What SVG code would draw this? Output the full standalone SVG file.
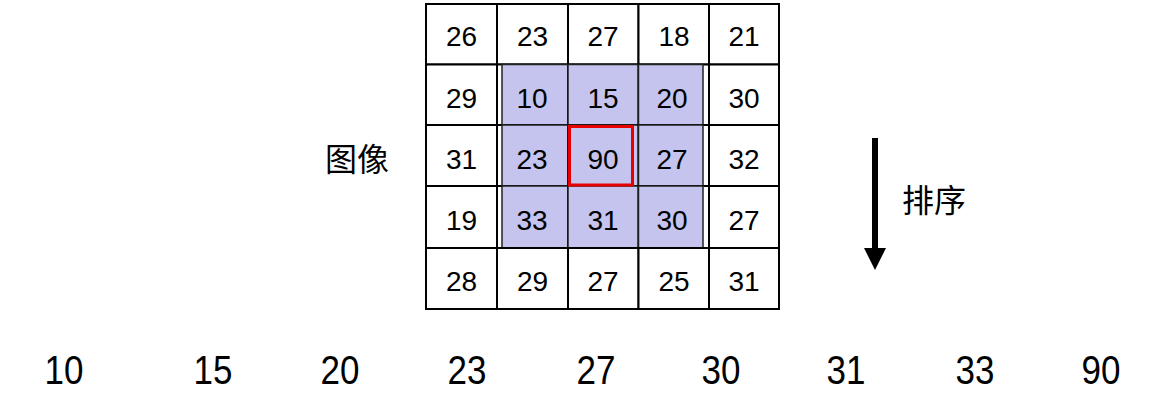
<svg xmlns="http://www.w3.org/2000/svg" width="1166" height="400" viewBox="0 0 1166 400">
<style>
.c{fill:#fff;stroke:#000;stroke-width:2}
.s{fill:#c4c4ee;stroke:#222;stroke-width:1.5}
.t{font-family:"Liberation Sans",Arial,sans-serif;font-size:28px;fill:#000;text-anchor:middle}
.b{font-family:"Liberation Sans",Arial,sans-serif;font-size:35px;fill:#000;text-anchor:middle}
.z{font-family:"Noto Sans CJK SC","Noto Sans CJK JP",sans-serif;font-size:32px;fill:#000}
</style>
<rect width="1166" height="400" fill="#fff"/>
<g id="grid">
<g id="r1c1"><rect class="c" x="426" y="4" width="71" height="60.5"/><text class="t" x="461.5" y="46">26</text></g>
<g id="r1c2"><rect class="c" x="497" y="4" width="71" height="60.5"/><text class="t" x="532.5" y="46">23</text></g>
<g id="r1c3"><rect class="c" x="568" y="4" width="70.5" height="60.5"/><text class="t" x="603" y="46">27</text></g>
<g id="r1c4"><rect class="c" x="638.5" y="4" width="70.5" height="60.5"/><text class="t" x="674" y="46">18</text></g>
<g id="r1c5"><rect class="c" x="709" y="4" width="70" height="60.5"/><text class="t" x="744" y="46">21</text></g>

<g id="r2c1"><rect class="c" x="426" y="64.5" width="71" height="60.5"/><text class="t" x="461.5" y="107.5">29</text></g>
<g id="r2c2"><rect class="c" x="497" y="64.5" width="71" height="60.5"/><rect class="s" x="502" y="64.5" width="66" height="60.5"/><text class="t" x="532" y="107.5">10</text></g>
<g id="r2c3"><rect class="c" x="568" y="64.5" width="70.5" height="60.5"/><rect class="s" x="568" y="64.5" width="70.5" height="60.5"/><text class="t" x="603" y="107.5">15</text></g>
<g id="r2c4"><rect class="c" x="638.5" y="64.5" width="70.5" height="60.5"/><rect class="s" x="638.5" y="64.5" width="64.5" height="60.5"/><text class="t" x="672" y="107.5">20</text></g>
<g id="r2c5"><rect class="c" x="709" y="64.5" width="70" height="60.5"/><text class="t" x="744" y="107.5">30</text></g>

<g id="r3c1"><rect class="c" x="426" y="125" width="71" height="61"/><text class="t" x="461.5" y="168.5">31</text></g>
<g id="r3c2"><rect class="c" x="497" y="125" width="71" height="61"/><rect class="s" x="502" y="125" width="66" height="61"/><text class="t" x="532" y="168.5">23</text></g>
<g id="r3c3"><rect class="c" x="568" y="125" width="70.5" height="61"/><rect class="s" x="568" y="125" width="70.5" height="61"/><text class="t" x="603" y="168.5">90</text></g>
<g id="r3c4"><rect class="c" x="638.5" y="125" width="70.5" height="61"/><rect class="s" x="638.5" y="125" width="64.5" height="61"/><text class="t" x="672" y="168.5">27</text></g>
<g id="r3c5"><rect class="c" x="709" y="125" width="70" height="61"/><text class="t" x="744" y="168.5">32</text></g>

<g id="r4c1"><rect class="c" x="426" y="186" width="71" height="62"/><text class="t" x="461.5" y="230">19</text></g>
<g id="r4c2"><rect class="c" x="497" y="186" width="71" height="62"/><rect class="s" x="502" y="186" width="66" height="62"/><text class="t" x="532" y="230">33</text></g>
<g id="r4c3"><rect class="c" x="568" y="186" width="70.5" height="62"/><rect class="s" x="568" y="186" width="70.5" height="62"/><text class="t" x="603" y="230">31</text></g>
<g id="r4c4"><rect class="c" x="638.5" y="186" width="70.5" height="62"/><rect class="s" x="638.5" y="186" width="64.5" height="62"/><text class="t" x="672" y="230">30</text></g>
<g id="r4c5"><rect class="c" x="709" y="186" width="70" height="62"/><text class="t" x="744" y="230">27</text></g>

<g id="r5c1"><rect class="c" x="426" y="248" width="71" height="61"/><text class="t" x="461.5" y="291">28</text></g>
<g id="r5c2"><rect class="c" x="497" y="248" width="71" height="61"/><text class="t" x="532.5" y="291">29</text></g>
<g id="r5c3"><rect class="c" x="568" y="248" width="70.5" height="61"/><text class="t" x="603" y="291">27</text></g>
<g id="r5c4"><rect class="c" x="638.5" y="248" width="70.5" height="61"/><text class="t" x="674" y="291">25</text></g>
<g id="r5c5"><rect class="c" x="709" y="248" width="70" height="61"/><text class="t" x="744" y="291">31</text></g>
</g>
<g id="center-highlight"><rect x="569.5" y="126.5" width="63" height="58.5" fill="none" stroke="#e60000" stroke-width="3"/></g>
<g id="label-image"><text class="z" x="325" y="171">图像</text></g>
<g id="label-sort"><text class="z" x="902" y="212">排序</text></g>
<g id="connectors">
<rect x="872" y="138" width="6" height="112" fill="#000"/>
<polygon points="864,248 886,248 875,270" fill="#000"/>
</g>
<g id="sorted">
<text class="b" transform="translate(64,384) scale(1,1.18)">10</text>
<text class="b" transform="translate(213,384) scale(1,1.18)">15</text>
<text class="b" transform="translate(340,384) scale(1,1.18)">20</text>
<text class="b" transform="translate(467,384) scale(1,1.18)">23</text>
<text class="b" transform="translate(596,384) scale(1,1.18)">27</text>
<text class="b" transform="translate(721,384) scale(1,1.18)">30</text>
<text class="b" transform="translate(846,384) scale(1,1.18)">31</text>
<text class="b" transform="translate(975,384) scale(1,1.18)">33</text>
<text class="b" transform="translate(1101,384) scale(1,1.18)">90</text>
</g>
</svg>
